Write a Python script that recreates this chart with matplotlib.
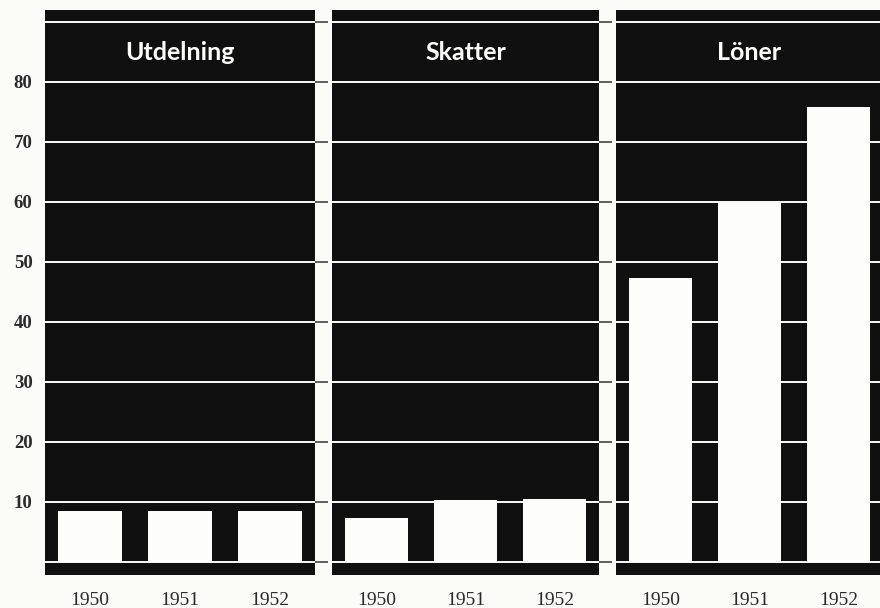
import matplotlib
matplotlib.use("Agg")
import matplotlib.pyplot as plt

years = ["1950", "1951", "1952"]
panel_titles = ["Utdelning", "Skatter", "Löner"]
utdelning = [8.4, 8.4, 8.4]
skatter = [7.3, 10.3, 10.45]
loner = [47.3, 59.8, 75.8]
series = [utdelning, skatter, loner]
y_ticks = [0, 10, 20, 30, 40, 50, 60, 70, 80, 90]
y_labels = ["", "10", "20", "30", "40", "50", "60", "70", "80", ""]

BLACK = "#101010"
PAPER = "#fbfbf8"
WHITE = "#fdfdfb"

fig = plt.figure(figsize=(8.8, 6.08), dpi=100, facecolor=PAPER)
W, H = 880.0, 608.0
lefts = [45, 332, 616]
widths = [270, 267, 267]
top_px, bot_px = 10, 575

for i, (title, vals) in enumerate(zip(panel_titles, series)):
    ax = fig.add_axes([lefts[i] / W, 1 - bot_px / H, widths[i] / W, (bot_px - top_px) / H])
    ax.set_facecolor(BLACK)
    x = list(range(len(years)))
    ax.bar(x, vals, width=0.71, color=WHITE, zorder=3, linewidth=0)
    ax.set_xlim(-0.5, 2.5)
    ax.set_ylim(-2.2, 92)
    ax.set_yticks(y_ticks)
    for yv in y_ticks:
        ax.axhline(yv, color=WHITE, lw=1.4, zorder=2)
    ax.set_xticks(x)
    ax.set_xticklabels(years, fontfamily="Liberation Serif", fontsize=14, color="#2a2a2a")
    ax.tick_params(axis="x", length=0, pad=12)
    for s in ax.spines.values():
        s.set_visible(False)
    if i == 0:
        ax.set_yticklabels(y_labels, fontfamily="Liberation Serif", fontweight="bold",
                           fontsize=13.5, color="#2a2a2a")
        ax.tick_params(axis="y", left=False, right=True, labelleft=True, length=9,
                       width=1.2, color="#444444", pad=0)
    else:
        ax.set_yticklabels([])
        ax.tick_params(axis="y", left=False, right=(i == 1), labelleft=False, length=9,
                       width=1.2, color="#444444")
    ax.text(0.5, 0.924, title, transform=ax.transAxes, ha="center", va="center",
            color=WHITE, fontfamily="Lato", fontweight="bold", fontsize=18, zorder=5)

fig.savefig("out.png", dpi=100, facecolor=PAPER)
